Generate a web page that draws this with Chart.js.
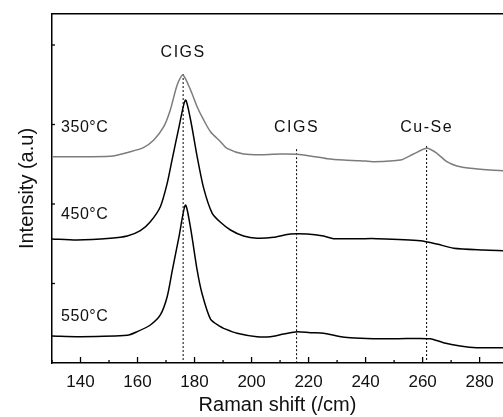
<!DOCTYPE html>
<html>
<head>
<meta charset="utf-8">
<script src="https://cdn.jsdelivr.net/npm/chart.js@4.4.1/dist/chart.umd.min.js"></script>
<style>
  html, body { margin: 0; padding: 0; background: #fff; overflow: hidden; }
  #wrap { width: 503px; height: 417px; }
</style>
</head>
<body>
<div id="wrap"><canvas id="raman" width="503" height="417"></canvas></div>
<script>
// Raman spectra (x = Raman shift, y = intensity offset, a.u.)
const shift350 = [130, 150.5, 157.5, 162.2, 165.7, 169.2, 171.5, 173.9, 175.9, 178.6, 180.9, 183.2, 185.6, 189.1, 191.4, 197.2, 204.2, 210.1, 216.0, 220.6, 226.5, 232.3, 238.1, 242.8, 252.2, 256.8, 261.5, 265.0, 268.5, 272.0, 276.7, 283.7, 288.3];
const int350 = [2.595, 2.60, 2.658, 2.713, 2.805, 2.972, 3.182, 3.497, 3.623, 3.434, 3.224, 3.057, 2.909, 2.784, 2.70, 2.629, 2.62, 2.629, 2.625, 2.604, 2.57, 2.553, 2.545, 2.532, 2.553, 2.629, 2.70, 2.638, 2.532, 2.478, 2.449, 2.428, 2.419];

const shift450 = [130, 138.8, 150.5, 156.4, 161.0, 164.5, 168.0, 170.4, 172.1, 174.5, 176.8, 178.6, 180.9, 183.2, 186.2, 189.1, 192.6, 197.2, 201.9, 207.8, 213.6, 219.5, 225.3, 228.8, 238.1, 244.0, 259.2, 265.0, 270.9, 281.4, 288.3];
const int450 = [1.560, 1.547, 1.569, 1.597, 1.664, 1.777, 1.966, 2.260, 2.553, 2.96, 3.308, 3.06, 2.60, 2.20, 1.883, 1.77, 1.673, 1.597, 1.569, 1.581, 1.623, 1.623, 1.597, 1.564, 1.564, 1.564, 1.538, 1.497, 1.443, 1.421, 1.413];

const shift550 = [130, 140, 156.4, 159.9, 164.5, 168.0, 170.4, 172.1, 174.5, 176.8, 178.6, 180.9, 182.6, 185.6, 189.1, 190.2, 194.9, 201.9, 206.6, 211.3, 216.0, 220.6, 225.3, 230.0, 234.6, 242.8, 251.0, 262.7, 267.3, 273.2, 279.0, 288.3];
const int550 = [0.340, 0.331, 0.348, 0.394, 0.478, 0.604, 0.834, 1.145, 1.58, 1.987, 1.70, 1.170, 0.877, 0.553, 0.457, 0.436, 0.374, 0.331, 0.331, 0.365, 0.394, 0.381, 0.374, 0.340, 0.318, 0.306, 0.306, 0.306, 0.255, 0.214, 0.192, 0.192];

// peak markers (dotted lines) and their labels
const peakShifts = [176.0, 215.8, 261.4];
const peakTops = [3.635, 2.69, 2.73];
const peakNames = ["CIGS", "CIGS", "Cu-Se"];
const peakLabelY = [3.91, 2.956, 2.956];

// temperature labels
const tempNames = ["350°C", "450°C", "550°C"];
const tempLabelX = 133.2;
const tempLabelY = [2.956, 1.862, 0.579];

const xTickLabels = [140, 160, 180, 200, 220, 240, 260, 280];

function pts(xs, ys) {
  return xs.map((v, i) => ({ x: v, y: ys[i] }));
}

const datasets = [
  { data: pts(shift350, int350), borderColor: "#7c7c7c", borderWidth: 1.5 },
  { data: pts(shift450, int450), borderColor: "#000", borderWidth: 1.5 },
  { data: pts(shift550, int550), borderColor: "#000", borderWidth: 1.5 }
];
peakShifts.forEach((s, i) => {
  datasets.push({
    data: [{ x: s, y: peakTops[i] }, { x: s, y: 0 }],
    borderColor: "#000", borderWidth: 1, borderDash: [2, 2], tension: 0
  });
});

// no extra side padding, so the plot runs to the right edge like the original crop
function noPad(s) {
  s.paddingLeft = 0;
  s.paddingRight = 0;
  s.paddingTop = 0;
  s.paddingBottom = 0;
}

// inward ticks + text labels
const decor = {
  id: "decor",
  afterDraw(chart) {
    const { ctx, chartArea: a } = chart;
    const x = chart.scales.x, y = chart.scales.y;
    ctx.save();
    ctx.strokeStyle = "#000";
    ctx.lineWidth = 1.3;
    x.ticks.forEach(t => {
      if (t.value % 10 !== 0) return;
      const px = x.getPixelForValue(t.value);
      const len = t.value % 20 === 0 ? 6 : 3;
      ctx.beginPath();
      ctx.moveTo(px, a.bottom);
      ctx.lineTo(px, a.bottom - len);
      ctx.stroke();
    });
    y.ticks.forEach(t => {
      if (!Number.isInteger(t.value) || t.value === 0) return;
      const py = y.getPixelForValue(t.value);
      ctx.beginPath();
      ctx.moveTo(a.left, py);
      ctx.lineTo(a.left + 3, py);
      ctx.stroke();
    });

    ctx.fillStyle = "#111";
    ctx.font = "16px 'Liberation Sans', Arial, sans-serif";
    ctx.textBaseline = "middle";
    ctx.letterSpacing = "1.5px";
    ctx.textAlign = "center";
    peakNames.forEach((n, i) => {
      ctx.fillText(n, x.getPixelForValue(peakShifts[i]), y.getPixelForValue(peakLabelY[i]));
    });
    ctx.letterSpacing = "0.5px";
    ctx.textAlign = "left";
    tempNames.forEach((n, i) => {
      ctx.fillText(n, x.getPixelForValue(tempLabelX), y.getPixelForValue(tempLabelY[i]));
    });
    ctx.restore();
  }
};

new Chart(document.getElementById("raman"), {
  type: "line",
  data: { datasets },
  options: {
    responsive: false,
    animation: false,
    layout: { padding: 0 },
    elements: {
      point: { radius: 0 },
      line: { tension: 0.25, fill: false }
    },
    plugins: { legend: { display: false }, tooltip: { enabled: false } },
    scales: {
      x: {
        type: "linear",
        position: "bottom",
        min: 130,
        max: 288.2,
        afterFit: s => { s.height = 54; noPad(s); },
        grid: { drawOnChartArea: false, drawTicks: false },
        border: { color: "#000", width: 1.5 },
        ticks: {
          stepSize: 10,
          includeBounds: false,
          padding: 9,
          autoSkip: false,
          maxRotation: 0,
          color: "#111",
          font: { family: "'Liberation Sans', Arial, sans-serif", size: 17 },
          callback: v => (xTickLabels.includes(v) ? String(v) : "")
        },
        title: {
          display: true,
          text: "Raman shift (/cm)",
          color: "#111",
          padding: { top: 0, bottom: 0 },
          font: { family: "'Liberation Sans', Arial, sans-serif", size: 20 }
        }
      },
      xTop: {
        type: "linear",
        position: "top",
        min: 130,
        max: 288.2,
        afterFit: s => { s.height = 14; noPad(s); },
        grid: { drawOnChartArea: false, drawTicks: false },
        border: { color: "#000", width: 1.5 },
        ticks: { display: false }
      },
      y: {
        type: "linear",
        position: "left",
        min: 0,
        max: 4.39,
        afterFit: s => { s.width = 52; noPad(s); },
        grid: { drawOnChartArea: false, drawTicks: false },
        border: { color: "#000", width: 1.5 },
        ticks: { stepSize: 1, display: false },
        title: {
          display: true,
          text: "Intensity (a.u)",
          color: "#111",
          padding: { top: 15, bottom: 0 },
          font: { family: "'Liberation Sans', Arial, sans-serif", size: 20 }
        }
      }
    }
  },
  plugins: [decor]
});
</script>
</body>
</html>
